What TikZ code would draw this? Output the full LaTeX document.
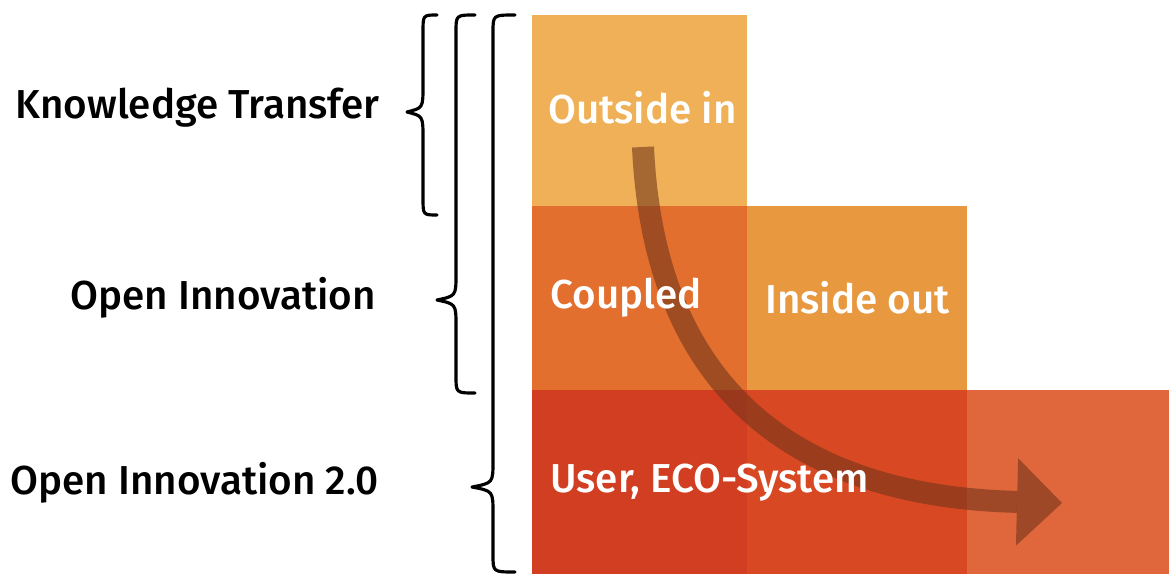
\documentclass[tikz,border=0pt]{standalone}
\usepackage{fontspec}
\setmainfont{Fira Sans Medium}
\usepackage{tikz}
\usetikzlibrary{arrows.meta}

\definecolor{outsideCol}{HTML}{EFB057}
\definecolor{coupledCol}{HTML}{E26F2E}
\definecolor{insideCol}{HTML}{E8983E}
\definecolor{ecoColA}{HTML}{D23E21}
\definecolor{ecoColB}{HTML}{D84923}
\definecolor{ecoColC}{HTML}{E0663C}
\definecolor{flowCol}{HTML}{70341A}

\tikzset{
  label/.style={font=\fontsize{23}{27}\selectfont, anchor=east, inner sep=0pt},
  blocktext/.style={font=\fontsize{23}{27}\selectfont, text=white, anchor=west, inner sep=0pt},
  bracket/.style={line width=1.8pt, line cap=round, line join=round},
  flow/.style={draw=flowCol, opacity=0.58, line width=0.44cm,
    -{Triangle[length=0.9cm, width=1.75cm, line width=0pt]}}
}

\begin{document}
\begin{tikzpicture}[x=0.02cm, y=-0.02cm]
			\useasboundingbox (0,0) rectangle (1169,574);
			
			% Blocks
			\fill[outsideCol] (532,15) rectangle (747,206);
			\fill[coupledCol] (532,206) rectangle (747,390);
			\fill[insideCol] (747,206) rectangle (967,390);
			\fill[ecoColA] (532,390) rectangle (747,574);
			\fill[ecoColB] (747,390) rectangle (967,574);
			\fill[ecoColC] (967,390) rectangle (1169,574);
			
			% Flow arrow
			\coordinate (flowStart) at (643,147);
			\coordinate (flowEnd) at (1062,503);
			\draw[flow] (flowStart) .. controls (655,410) and (820,497) .. (flowEnd);
			
			% Block texts
			\node[blocktext] (outsideIn) at (548,108) {Outside in};
			\node[blocktext] (coupled) at (550,298) {Coupled};
			\node[blocktext] (insideOut) at (765,298) {Inside out};
			\node[blocktext] (userEco) at (550,483) {User, ECO-System};
			
			% Braces
			\foreach \xe/\xl/\xt/\ty/\yb in {437/423/407/112/215, 475/456/437/300/393, 515/493/472/487/572} {
				\draw[bracket] (\xe,15) .. controls (\xl,15) .. (\xl,32)
					-- (\xl,\ty-26) .. controls (\xl,\ty-4) .. (\xt,\ty)
					.. controls (\xl,\ty+4) .. (\xl,\ty+26)
					-- (\xl,\yb-17) .. controls (\xl,\yb) .. (\xe,\yb);
			}
			
			% Labels
			\node[label] (knowTrans) at (380,108) {Knowledge Transfer};
			\node[label] (openInno) at (376,298) {Open Innovation};
			\node[label] (openInnoTwo) at (379,483) {Open Innovation 2.0};
		\end{tikzpicture}
\end{document}
